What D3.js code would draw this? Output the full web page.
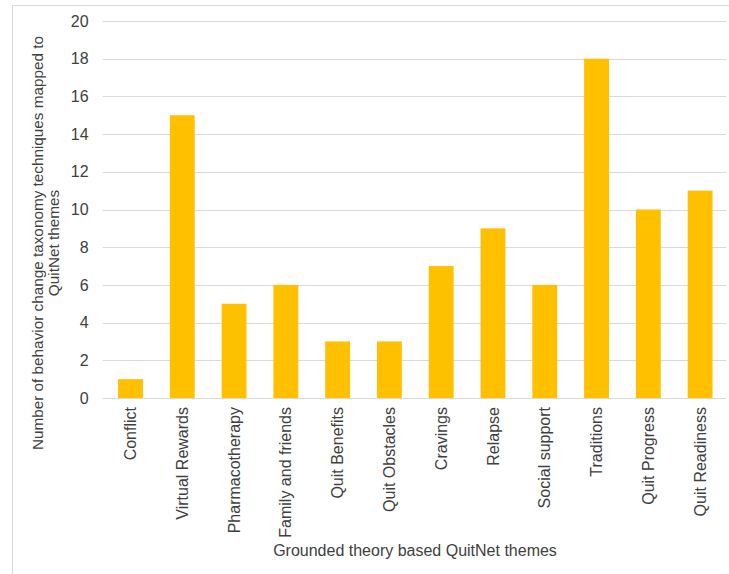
<!DOCTYPE html>
<html>
<head>
<meta charset="utf-8">
<script src="https://cdn.jsdelivr.net/npm/d3@7"></script>
<style>
  body { margin: 0; background: #fff; }
  svg text { font-family: "Liberation Sans", Arial, sans-serif; fill: #404040; }
</style>
</head>
<body>
<div id="chart"></div>
<script>
// Data
const themes = ['Conflict', 'Virtual Rewards', 'Pharmacotherapy', 'Family and friends',
    'Quit Benefits', 'Quit Obstacles', 'Cravings', 'Relapse', 'Social support',
    'Traditions', 'Quit Progress', 'Quit Readiness'];
const counts = [1, 15, 5, 6, 3, 3, 7, 9, 6, 18, 10, 11];
const yTicks = [0, 2, 4, 6, 8, 10, 12, 14, 16, 18, 20];

const width = 729, height = 574;
const margin = { top: 21, right: 3, bottom: 176, left: 104.6 };
const innerW = width - margin.left - margin.right;
const innerH = height - margin.top - margin.bottom;

const svg = d3.select('#chart').append('svg')
    .attr('width', width)
    .attr('height', height);

// Frame
svg.append('path')
    .attr('d', `M12.5,${height} V5.5 H${width}`)
    .attr('fill', 'none')
    .attr('stroke', '#d9d9d9');

const g = svg.append('g')
    .attr('transform', `translate(${margin.left},${margin.top})`);

const x = d3.scaleBand()
    .domain(themes)
    .range([0, innerW])
    .paddingInner(0.52)
    .paddingOuter(0.26);

const y = d3.scaleLinear()
    .domain([0, 20])
    .range([innerH, 0]);

// Gridlines
g.append('g')
    .selectAll('line')
    .data(yTicks)
    .join('line')
    .attr('x1', -2)
    .attr('x2', innerW)
    .attr('y1', d => Math.round(y(d)) + 0.5)
    .attr('y2', d => Math.round(y(d)) + 0.5)
    .attr('stroke', '#d9d9d9');

// Y axis labels
const yAxis = g.append('g')
    .call(d3.axisLeft(y).tickValues(yTicks).tickSize(0).tickPadding(16));
yAxis.select('.domain').remove();
yAxis.selectAll('text')
    .style('font-size', '16px')
    .attr('fill', '#404040');

// Bars
g.selectAll('rect.bar')
    .data(themes)
    .join('rect')
    .attr('class', 'bar')
    .attr('x', d => x(d))
    .attr('width', x.bandwidth())
    .attr('y', (d, i) => y(counts[i]))
    .attr('height', (d, i) => innerH - y(counts[i]))
    .attr('fill', '#ffc000');

// X axis labels
const xAxis = g.append('g')
    .attr('transform', `translate(0,${innerH})`)
    .call(d3.axisBottom(x).tickSize(0));
xAxis.select('.domain').remove();
xAxis.selectAll('text')
    .style('font-size', '16px')
    .attr('fill', '#404040')
    .attr('transform', 'rotate(-90)')
    .attr('text-anchor', 'end')
    .attr('x', -9)
    .attr('y', 0)
    .attr('dy', '0.35em');

// Axis titles
svg.append('text')
    .attr('x', 415)
    .attr('y', 556)
    .attr('text-anchor', 'middle')
    .style('font-size', '16px')
    .text('Grounded theory based QuitNet themes');

const yTitle = svg.append('text')
    .attr('transform', 'translate(0,243) rotate(-90)')
    .attr('text-anchor', 'middle')
    .style('font-size', '15.3px');
yTitle.append('tspan').attr('x', 0).attr('y', 43)
    .text('Number of behavior change taxonomy techniques mapped to');
yTitle.append('tspan').attr('x', 0).attr('y', 59)
    .text('QuitNet themes');
</script>
</body>
</html>
